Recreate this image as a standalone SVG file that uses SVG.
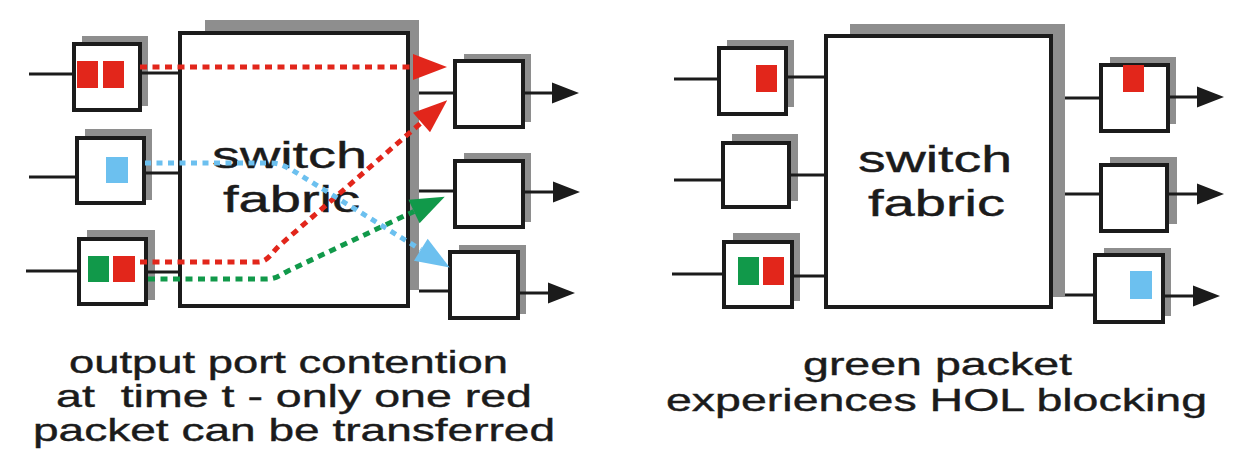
<svg xmlns="http://www.w3.org/2000/svg" width="1245" height="465" viewBox="0 0 1245 465">
<style>
.sh{fill:#8e8e8e}
.bx{fill:#fff;stroke:#1b1b1b;stroke-width:4}
.ln{stroke:#1b1b1b;stroke-width:3;fill:none}
.red{fill:#e2261b}
.grn{fill:#11994a}
.blu{fill:#6cc0ef}
.dr{stroke:#e2261b;stroke-width:5;stroke-dasharray:7 5.5;fill:none}
.dg{stroke:#11994a;stroke-width:5;stroke-dasharray:7 5.5;fill:none}
.db{stroke:#6cc0ef;stroke-width:5;stroke-dasharray:6 5.5;fill:none}
.t{font-family:"Liberation Sans",Arial,sans-serif;fill:#1b1b1b;stroke:#1b1b1b;stroke-width:0.4;white-space:pre}
.big{font-size:36px}
.cap{font-size:32px}
</style>
<defs>
<marker id="ab" markerUnits="userSpaceOnUse" markerWidth="27" markerHeight="21" refX="0" refY="10.5" orient="auto" overflow="visible"><path d="M0,0 L27,10.5 L0,21 z" fill="#1b1b1b"/></marker>
<marker id="ar" markerUnits="userSpaceOnUse" markerWidth="34" markerHeight="26" refX="0" refY="13" orient="auto" overflow="visible"><path d="M0,0 L34,13 L0,26 z" fill="#e2261b"/></marker>
<marker id="ag" markerUnits="userSpaceOnUse" markerWidth="34" markerHeight="26" refX="0" refY="13" orient="auto" overflow="visible"><path d="M0,0 L34,13 L0,26 z" fill="#11994a"/></marker>
<marker id="abl" markerUnits="userSpaceOnUse" markerWidth="34" markerHeight="26" refX="0" refY="13" orient="auto" overflow="visible"><path d="M0,0 L34,13 L0,26 z" fill="#6cc0ef"/></marker>
</defs>
<rect width="1245" height="465" fill="#fff"/>

<!-- LEFT -->
<g id="L-fabric">
<rect class="sh" x="205" y="20" width="214" height="270"/>
<rect class="bx" x="180" y="33" width="228" height="273"/>
<text class="t big" x="212" y="168" textLength="155" lengthAdjust="spacingAndGlyphs">switch</text>
<text class="t big" x="223" y="212" textLength="137" lengthAdjust="spacingAndGlyphs">fabric</text>
</g>
<g id="L-in1">
<rect class="sh" x="82" y="36" width="66" height="70"/>
<rect class="bx" x="74" y="44" width="66" height="66"/>
<rect class="red" x="77" y="61" width="21" height="27"/>
<rect class="red" x="103" y="61" width="21" height="27"/>
</g>
<g id="L-in2">
<rect class="sh" x="85" y="129" width="67" height="71"/>
<rect class="bx" x="77" y="138" width="67" height="65"/>
<rect class="blu" x="106" y="157" width="22" height="26"/>
</g>
<g id="L-in3">
<rect class="sh" x="87" y="230" width="68" height="70"/>
<rect class="bx" x="79" y="239" width="67" height="65"/>
<rect class="grn" x="88" y="256" width="21" height="26"/>
<rect class="red" x="113" y="256" width="22" height="26"/>
</g>
<g id="L-out1">
<rect class="sh" x="464" y="54" width="67" height="68"/>
<rect class="bx" x="455" y="61" width="68" height="66"/>
</g>
<g id="L-out2">
<rect class="sh" x="464" y="153" width="67" height="69"/>
<rect class="bx" x="455" y="161" width="68" height="66"/>
</g>
<g id="L-out3">
<rect class="sh" x="459" y="245" width="67" height="69"/>
<rect class="bx" x="450" y="252" width="68" height="66"/>
</g>

<!-- RIGHT -->
<g id="R-fabric">
<rect class="sh" x="850" y="24" width="215" height="273"/>
<rect class="bx" x="826" y="36" width="225" height="271"/>
<text class="t big" x="858" y="172" textLength="154" lengthAdjust="spacingAndGlyphs">switch</text>
<text class="t big" x="868" y="216" textLength="137" lengthAdjust="spacingAndGlyphs">fabric</text>
</g>
<g id="R-in1">
<rect class="sh" x="727" y="40" width="67" height="67"/>
<rect class="bx" x="719" y="48" width="67" height="66"/>
<rect class="red" x="756" y="65" width="21" height="27"/>
</g>
<g id="R-in2">
<rect class="sh" x="732" y="134" width="66" height="67"/>
<rect class="bx" x="723" y="143" width="66" height="64"/>
</g>
<g id="R-in3">
<rect class="sh" x="733" y="233" width="67" height="68"/>
<rect class="bx" x="724" y="242" width="68" height="65"/>
<rect class="grn" x="738" y="257" width="21" height="28"/>
<rect class="red" x="763" y="257" width="21" height="28"/>
</g>
<g id="R-out1">
<rect class="sh" x="1110" y="57" width="66" height="67"/>
<rect class="bx" x="1101" y="65" width="67" height="66"/>
<rect class="red" x="1123" y="65" width="21" height="27"/>
</g>
<g id="R-out2">
<rect class="sh" x="1110" y="157" width="67" height="67"/>
<rect class="bx" x="1101" y="165" width="66" height="66"/>
</g>
<g id="R-out3">
<rect class="sh" x="1104" y="248" width="67" height="68"/>
<rect class="bx" x="1095" y="255" width="68" height="67"/>
<rect class="blu" x="1130" y="271" width="22" height="28"/>
</g>

<g id="connectors">
<path class="ln" d="M29,74H72M29,177H75M26,271H77"/>
<path class="ln" d="M142,73H180M146,173H180M148,272H180"/>
<path class="ln" d="M419,93H453M419,191H453M419,291H448"/>
<path class="ln" d="M525,93H552" marker-end="url(#ab)"/>
<path class="ln" d="M525,192H553" marker-end="url(#ab)"/>
<path class="ln" d="M520,293H548" marker-end="url(#ab)"/>
<path class="ln" d="M674,79H717M674,180H721M672,274H722"/>
<path class="ln" d="M788,77H826M791,175H826M794,276H826"/>
<path class="ln" d="M1065,98H1099M1065,194H1099M1065,295H1093"/>
<path class="ln" d="M1170,97H1197" marker-end="url(#ab)"/>
<path class="ln" d="M1169,194H1197" marker-end="url(#ab)"/>
<path class="ln" d="M1165,296H1193" marker-end="url(#ab)"/>
<path class="dr" d="M140,67H413" marker-end="url(#ar)"/>
<path class="dr" d="M140,262H258C268,262 272,252 280,245L421.5,122.5" marker-end="url(#ar)"/>
<path class="dg" d="M148,279H266C276,279 280,275 288,271L414,211.4" marker-end="url(#ag)"/>
<path class="db" d="M145,163H270C280,163 284,166 292,170L420.8,249.7" marker-end="url(#abl)"/>
</g>

<g id="captions">
<text class="t cap" x="69" y="373" textLength="439" lengthAdjust="spacingAndGlyphs">output port contention</text>
<text class="t cap" x="56" y="407" textLength="476" lengthAdjust="spacingAndGlyphs">at  time t - only one red</text>
<text class="t cap" x="33" y="441" textLength="522" lengthAdjust="spacingAndGlyphs">packet can be transferred</text>
<text class="t cap" x="803" y="375" textLength="269" lengthAdjust="spacingAndGlyphs">green packet</text>
<text class="t cap" x="666" y="411" textLength="541" lengthAdjust="spacingAndGlyphs">experiences HOL blocking</text>
</g>
</svg>
